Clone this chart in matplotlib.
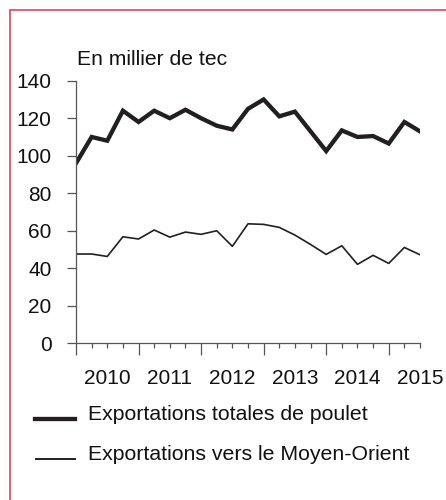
import matplotlib
matplotlib.use('Agg')
import matplotlib.pyplot as plt
from matplotlib.lines import Line2D
from matplotlib.patches import Rectangle

plt.rcParams['font.family'] = ['Liberation Sans', 'DejaVu Sans']

# quarterly values, thousand tonnes carcass equivalent
total_poulet = [96, 110, 108, 124, 118, 124, 120, 124.5, 120, 116, 114, 125,
                130, 121, 123.5, 113, 102.5, 113.5, 110, 110.5, 106.5, 118, 113]
moyen_orient = [47.6, 47.6, 46.3, 56.8, 55.6, 60.4, 56.6, 59.3, 58.1, 60, 51.7, 63.7,
                63.4, 61.8, 57.7, 52.7, 47.4, 52, 42.1, 46.9, 42.6, 51.1, 47.2]
years = ['2010', '2011', '2012', '2013', '2014', '2015']
year_pos = [2, 6, 10, 14, 18, 22]
labels = ['Exportations totales de poulet', 'Exportations vers le Moyen-Orient']

W, H = 446, 500
fig = plt.figure(figsize=(W / 100, H / 100), dpi=100)
ax = fig.add_axes([76 / W, 1 - 343.3 / H, 344 / W, 262.6 / H])

x = list(range(len(total_poulet)))
ax.plot(x, total_poulet, color='#231f20', lw=3.1, solid_joinstyle='miter')
ax.plot(x, moyen_orient, color='#231f20', lw=1.2)

ax.set_xlim(0, 22)
ax.set_ylim(0, 140)
ax.set_yticks(range(0, 141, 20))
ax.set_xticks(range(0, 21, 4))
ax.set_xticklabels([])
ax.set_xticks(x, minor=True)
for s in ['top', 'right']:
    ax.spines[s].set_visible(False)
for s in ['left', 'bottom']:
    ax.spines[s].set_color('#555555')
    ax.spines[s].set_linewidth(0.9)
ax.tick_params(axis='y', length=6.5, width=0.9, color='#555555', pad=11,
               labelsize=15, labelcolor='#111111')
ax.tick_params(axis='x', which='major', length=8.6, width=0.9, color='#555555')
ax.tick_params(axis='x', which='minor', length=3.6, width=0.9, color='#555555')
for p, yr in zip(year_pos, years):
    ax.text(p, -35 / 262.6, yr, transform=ax.get_xaxis_transform(),
            ha='center', va='center', fontsize=15, color='#111111', clip_on=False)

fig.text(77 / W, 1 - 65 / H, 'En millier de tec', fontsize=15.2,
         va='baseline', ha='left', color='#111111')

# legend drawn by hand
fig.add_artist(Line2D([35 / W, 75 / W], [1 - 419 / H] * 2, color='#231f20', lw=3.1))
fig.add_artist(Line2D([36 / W, 75 / W], [1 - 459 / H] * 2, color='#231f20', lw=1.4))
fig.text(88 / W, 1 - 415 / H, labels[0], fontsize=15.3, va='center', color='#111111')
fig.text(88 / W, 1 - 454 / H, labels[1], fontsize=15.3, va='center', color='#111111')

# pink frame
fig.add_artist(Rectangle((9.5 / W, -0.1), 1.2, 1.1 - 10.5 / H, fill=False,
                         edgecolor='#f04a68', lw=1.3, transform=fig.transFigure,
                         clip_on=False))

fig.savefig('out.png', dpi=100, facecolor='white')
